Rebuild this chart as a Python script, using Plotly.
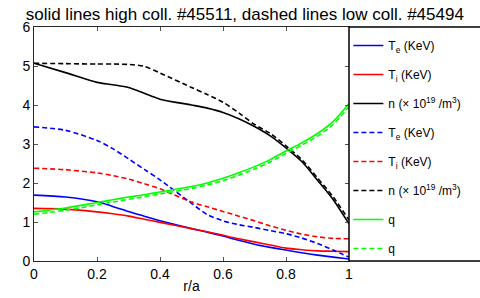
import plotly.graph_objects as go

r = [0.0, 0.1, 0.2, 0.25, 0.3, 0.35, 0.4, 0.5, 0.55, 0.6, 0.65, 0.7, 0.75, 0.8, 0.85, 0.9, 0.95, 1.0]

te_high = [1.69, 1.64, 1.52, 1.40, 1.27, 1.15, 1.03, 0.83, 0.74, 0.64, 0.53, 0.43, 0.35, 0.28, 0.21, 0.15, 0.10, 0.05]
ti_high = [1.35, 1.33, 1.26, 1.21, 1.15, 1.07, 0.99, 0.83, 0.75, 0.66, 0.57, 0.49, 0.41, 0.33, 0.29, 0.26, 0.25, 0.24]
n_high = [5.07, 4.83, 4.58, 4.52, 4.45, 4.30, 4.15, 4.00, 3.92, 3.81, 3.65, 3.45, 3.21, 2.90, 2.55, 2.07, 1.57, 0.95]
te_low = [3.44, 3.35, 3.09, 2.88, 2.62, 2.35, 2.08, 1.48, 1.19, 1.03, 0.93, 0.86, 0.78, 0.70, 0.59, 0.45, 0.28, 0.10]
ti_low = [2.38, 2.34, 2.26, 2.19, 2.10, 1.98, 1.85, 1.51, 1.39, 1.27, 1.15, 1.03, 0.90, 0.79, 0.69, 0.62, 0.58, 0.57]
n_low = [5.07, 5.06, 5.05, 5.05, 5.04, 4.99, 4.82, 4.45, 4.27, 4.07, 3.80, 3.50, 3.27, 2.95, 2.60, 2.13, 1.64, 1.05]
q_high = [1.26, 1.36, 1.50, 1.57, 1.64, 1.70, 1.77, 1.91, 2.00, 2.12, 2.26, 2.42, 2.60, 2.82, 3.03, 3.27, 3.58, 4.04]
q_low = [1.20, 1.30, 1.44, 1.51, 1.58, 1.65, 1.72, 1.86, 1.95, 2.06, 2.20, 2.36, 2.54, 2.76, 2.97, 3.20, 3.50, 3.96]

x_ticks = [0, 0.2, 0.4, 0.6, 0.8, 1]
x_tick_labels = ["0", "0.2", "0.4", "0.6", "0.8", "1"]
y_ticks = [0, 1, 2, 3, 4, 5, 6]
y_tick_labels = ["0", "1", "2", "3", "4", "5", "6"]

title_text = "solid lines high coll. #45511, dashed lines low coll. #45494"
names = ["T<sub>e</sub> (KeV)", "T<sub>i</sub> (KeV)", "n (× 10<sup>19</sup> /m<sup>3</sup>)",
         "T<sub>e</sub> (KeV)", "T<sub>i</sub> (KeV)", "n (× 10<sup>19</sup> /m<sup>3</sup>)",
         "q", "q"]

FONT = "Liberation Sans, Arial, Helvetica, sans-serif"
DASH = "5px,3px"

series = [
    (te_high, "#0000ff", "solid"),
    (ti_high, "#ff0000", "solid"),
    (n_high, "#000000", "solid"),
    (te_low, "#0000ff", DASH),
    (ti_low, "#ff0000", DASH),
    (n_low, "#000000", DASH),
    (q_high, "#00ff00", "solid"),
    (q_low, "#00ff00", DASH),
]

fig = go.Figure()
for i, (vals, col, dash) in enumerate(series):
    fig.add_trace(go.Scatter(
        x=r, y=vals, mode="lines", name=names[i], legendgroup="g%d" % i,
        line=dict(color=col, width=1.6, dash=dash, shape="spline", smoothing=0.8),
    ))

axis_common = dict(
    showline=True, linecolor="#262626", linewidth=1, mirror="ticks",
    ticks="inside", ticklen=4, tickcolor="#555555", tickwidth=1,
    showgrid=False, zeroline=False, automargin=False,
    tickfont=dict(family=FONT, size=14, color="#000000"),
)

fig.update_layout(
    width=480, height=298,
    margin=dict(l=34, r=131, t=27, b=37, autoexpand=False),
    paper_bgcolor="white", plot_bgcolor="white",
    font=dict(family=FONT, color="#000000"),
    title=dict(text=title_text, x=0.51, xref="container", xanchor="center",
               y=1 - 14 / 298, yref="container", yanchor="middle",
               font=dict(family=FONT, size=17, color="#000000")),
    xaxis=dict(range=[0, 1], tickvals=x_ticks, ticktext=x_tick_labels,
               title=dict(text="r/a", font=dict(family=FONT, size=14), standoff=0),
               **axis_common),
    yaxis=dict(range=[0, 6], tickvals=y_ticks, ticktext=y_tick_labels, **axis_common),
    showlegend=True,
    legend=dict(x=0.998, y=0.983, xanchor="left", yanchor="top",
                bgcolor="rgba(0,0,0,0)", borderwidth=0, maxheight=298,
                font=dict(family=FONT, size=12, color="#000000"),
                tracegroupgap=10, itemwidth=30),
    shapes=[dict(type="rect", xref="paper", yref="paper", x0=1, x1=1.6, y0=0, y1=1,
                 line=dict(color="#000000", width=1.5), fillcolor="white", layer="above")],
)

fig.write_html("out.html", config={"displayModeBar": False},
               post_script="document.body.style.margin='0';document.body.style.overflow='hidden';")
